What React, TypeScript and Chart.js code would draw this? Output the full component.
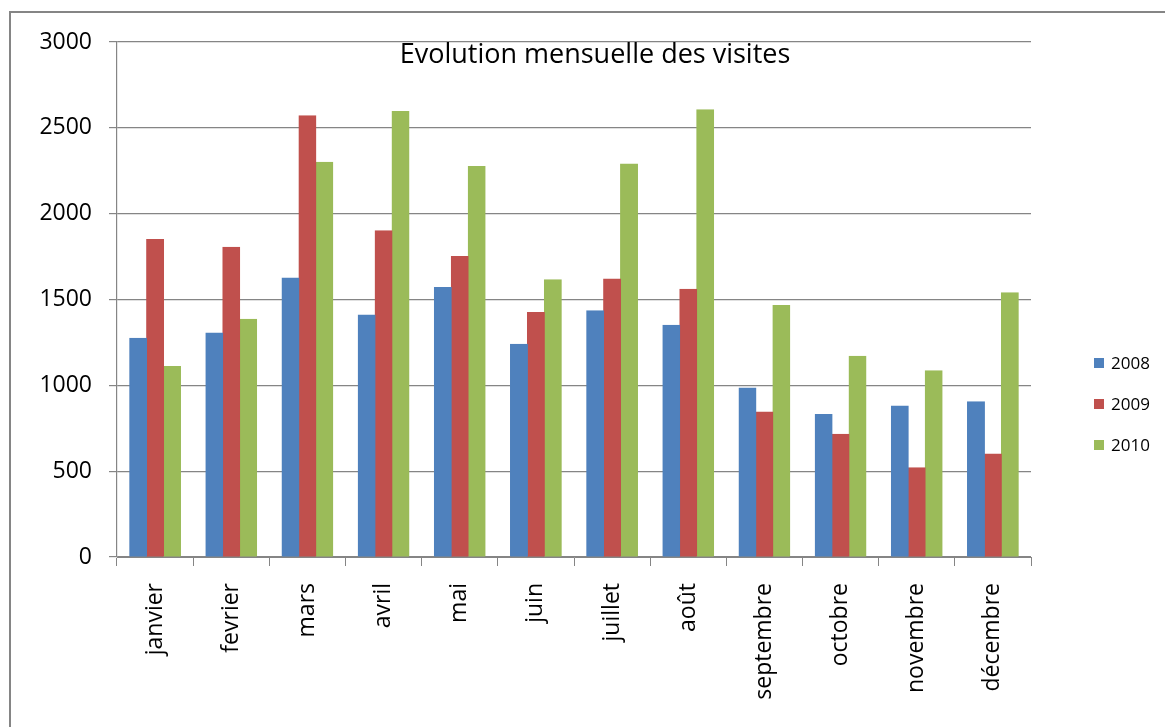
import React, { useEffect, useRef } from 'react';
import { Chart, registerables } from 'chart.js';

Chart.register(...registerables);

const months = ['janvier', 'fevrier', 'mars', 'avril', 'mai', 'juin', 'juillet', 'août', 'septembre', 'octobre', 'novembre', 'décembre'];
const visits2008 = [1275, 1305, 1625, 1410, 1570, 1240, 1435, 1350, 985, 830, 880, 905];
const visits2009 = [1850, 1805, 2570, 1900, 1750, 1425, 1620, 1560, 845, 715, 520, 600];
const visits2010 = [1110, 1385, 2300, 2595, 2275, 1615, 2290, 2605, 1465, 1170, 1085, 1540];
const seriesLabels = ['2008', '2009', '2010'];
const seriesColors = ['#4F81BD', '#C0504D', '#9BBB59'];
const yMin = 0;
const yMax = 3000;
const yStep = 500;
const chartTitle = 'Evolution mensuelle des visites';

const AXIS = '#858585';
const FONT = '"Open Sans"';

const titlePlugin = {
  id: 'excelTitle',
  afterDraw(chart: any) {
    const ctx = chart.ctx;
    ctx.save();
    ctx.font = `27px ${FONT}`;
    ctx.fillStyle = '#000';
    ctx.textAlign = 'center';
    ctx.textBaseline = 'alphabetic';
    ctx.fillText(chartTitle, 595, 63);
    ctx.restore();
  },
};

const legendPlugin = {
  id: 'excelLegend',
  afterDraw(chart: any) {
    const ctx = chart.ctx;
    ctx.save();
    ctx.font = `17px ${FONT}`;
    ctx.textAlign = 'left';
    ctx.textBaseline = 'middle';
    chart.data.datasets.forEach((ds: any, i: number) => {
      const cy = 363 + i * 41;
      ctx.fillStyle = ds.backgroundColor;
      ctx.fillRect(1094, cy - 5, 10, 10);
      ctx.fillStyle = '#000';
      ctx.fillText(ds.label, 1111, cy + 1);
    });
    ctx.restore();
  },
};

export default function App() {
  const ref = useRef<HTMLCanvasElement | null>(null);

  useEffect(() => {
    if (!ref.current) return;
    const seriesValues = [visits2008, visits2009, visits2010];
    const chart = new Chart(ref.current, {
      type: 'bar',
      data: {
        labels: months,
        datasets: seriesValues.map((vals, i) => ({
          label: seriesLabels[i],
          data: vals,
          backgroundColor: seriesColors[i],
          borderColor: seriesColors[i],
          borderWidth: 1,
          borderSkipped: 'bottom',
          inflateAmount: 0.5,
          barPercentage: 1,
          categoryPercentage: 0.667,
        })),
      },
      options: {
        responsive: false,
        animation: false,
        layout: { padding: { top: 42, right: 134, left: 0, bottom: 0 } },
        plugins: {
          legend: { display: false },
          title: { display: false },
          tooltip: { enabled: false },
        },
        scales: {
          x: {
            grid: {
              offset: true,
              drawOnChartArea: false,
              drawTicks: true,
              tickLength: 9,
              color: AXIS,
              lineWidth: 1,
            },
            border: { color: AXIS, width: 1 },
            ticks: {
              autoSkip: false,
              minRotation: 90,
              maxRotation: 90,
              padding: 17,
              color: '#000',
              font: { family: FONT, size: 23 },
            },
            afterFit: (s: any) => {
              s.height = 170;
            },
          },
          y: {
            min: yMin,
            max: yMax,
            ticks: {
              stepSize: yStep,
              padding: 17,
              color: '#000',
              font: { family: FONT, size: 23 },
              callback: (v: any) => String(v),
            },
            grid: { color: AXIS, tickLength: 8, lineWidth: 1.2 },
            border: { color: AXIS, width: 1.2 },
            afterFit: (s: any) => {
              s.width = 117;
            },
          },
        },
      },
      plugins: [titlePlugin, legendPlugin],
    });
    return () => chart.destroy();
  }, []);

  return (
    <div
      style={{
        position: 'fixed',
        left: 0,
        top: 0,
        width: 1165,
        height: 727,
        overflow: 'hidden',
        background: '#fff',
      }}
    >
      <div
        style={{
          position: 'absolute',
          left: 9,
          top: 11,
          width: 1300,
          height: 900,
          border: `2px solid ${AXIS}`,
          boxSizing: 'border-box',
        }}
      />
      <canvas
        ref={ref}
        width={1165}
        height={727}
        style={{ position: 'absolute', left: 0, top: 0, width: 1165, height: 727 }}
      />
    </div>
  );
}
